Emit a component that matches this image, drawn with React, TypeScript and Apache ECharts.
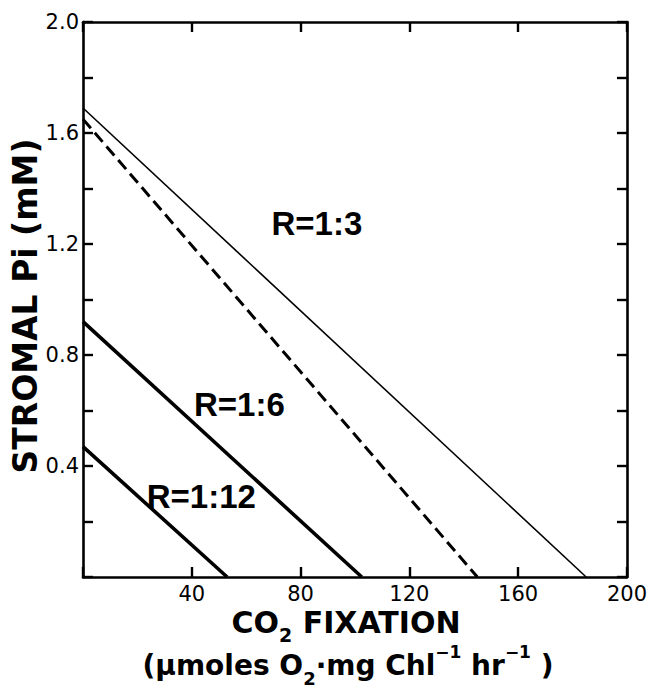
import React, { useEffect, useRef } from "react";
import * as echarts from "echarts";

// ---- data ----
const seriesNames = ["R=1:3", "R=1:3 (dashed)", "R=1:6", "R=1:12"];
const yIntercepts = [1.69, 1.65, 0.92, 0.47]; // stromal Pi at zero CO2 fixation (mM)
const xIntercepts = [185, 145, 102.5, 53]; // CO2 fixation where Pi reaches zero
const lineWidths = [1.6, 3, 3.6, 3.6];
const lineTypes: any[] = ["solid", [12, 6], "solid", "solid"];

const annotationTexts = ["R=1:3", "R=1:6", "R=1:12"];
const annotationX = [86, 57.5, 43.5];
const annotationY = [1.275, 0.62, 0.29];

const xMin = 0, xMax = 200, xStep = 40;
const yMin = 0, yMax = 2.0, yStep = 0.2;

const FONT = '"DejaVu Sans", "Liberation Sans", sans-serif';
const FONT2 = '"Liberation Sans", Arial, sans-serif';

export default function App() {
  const ref = useRef<HTMLDivElement>(null);
  useEffect(() => {
    if (!ref.current) return;
    const chart = echarts.init(ref.current, undefined, { renderer: "svg" });
    const axisLine = { show: true, onZero: false, lineStyle: { color: "#000", width: 2.6 } };
    const axisTick = { show: true, inside: true, length: 10, lineStyle: { color: "#000", width: 2.4 } };
    const lineSeries = seriesNames.map((name, i) => ({
      name,
      type: "line",
      xAxisIndex: 0,
      yAxisIndex: 0,
      data: [
        [0, yIntercepts[i]],
        [xIntercepts[i], 0],
      ],
      symbol: "none",
      lineStyle: { color: "#000", width: lineWidths[i], type: lineTypes[i], cap: "butt" },
      silent: true,
    }));
    const labelSeries = {
      name: "labels",
      type: "scatter",
      xAxisIndex: 0,
      yAxisIndex: 0,
      symbolSize: 0,
      itemStyle: { color: "#000", opacity: 1 },
      data: annotationTexts.map((t, i) => ({ name: t, value: [annotationX[i], annotationY[i]] })),
      label: {
        show: true,
        position: "inside",
        formatter: (p: any) => p.name,
        color: "#000",
        opacity: 1,
        fontFamily: FONT2,
        fontWeight: "bold",
        fontSize: 33,
      },
      silent: true,
    };
    chart.setOption({
      animation: false,
      backgroundColor: "#fff",
      grid: { left: 83, right: 16, top: 22, bottom: 117, containLabel: false },
      xAxis: [
        {
          type: "value",
          position: "bottom",
          min: xMin,
          max: xMax,
          interval: xStep,
          axisLine,
          axisTick,
          splitLine: { show: false },
          axisLabel: {
            margin: 6,
            color: "#000",
            fontFamily: FONT,
            fontSize: 21,
            formatter: (v: number) => (v === 0 ? "" : String(v)),
          },
        },
        {
          type: "value",
          position: "top",
          min: xMin,
          max: xMax,
          interval: xStep,
          axisLine,
          axisTick,
          splitLine: { show: false },
          axisLabel: { show: false },
        },
      ],
      yAxis: [
        {
          type: "value",
          position: "left",
          min: yMin,
          max: yMax,
          interval: yStep,
          axisLine,
          axisTick,
          splitLine: { show: false },
          axisLabel: {
            margin: 4,
            color: "#000",
            fontFamily: FONT,
            fontSize: 21,
            formatter: (v: number) => {
              const k = Math.round(v * 10);
              return k > 0 && k % 4 === 0 ? v.toFixed(1) : "";
            },
          },
        },
        {
          type: "value",
          position: "right",
          min: yMin,
          max: yMax,
          interval: yStep,
          axisLine,
          axisTick,
          splitLine: { show: false },
          axisLabel: { show: false },
        },
      ],
      graphic: [
        {
          type: "text",
          x: 25,
          y: 306,
          rotation: Math.PI / 2,
          style: {
            text: "STROMAL Pi (mM)",
            font: `bold 33px ${FONT}`,
            fill: "#000",
            align: "center",
            verticalAlign: "middle",
          },
        },
        {
          type: "text",
          x: 346,
          y: 622,
          style: {
            text: "{a|CO}{s|2}{a| FIXATION}",
            fill: "#000",
            align: "center",
            verticalAlign: "middle",
            rich: {
              a: { fontFamily: FONT, fontWeight: "bold", fontSize: 30, lineHeight: 34, verticalAlign: "middle" },
              s: { fontFamily: FONT, fontWeight: "bold", fontSize: 19, lineHeight: 44, verticalAlign: "bottom" },
            },
          },
        },
        {
          type: "text",
          x: 348,
          y: 665,
          style: {
            text: "{a|(μmoles O}{s|2}{a|·mg Chl}{p|−1}{a| hr}{p|−1}{a| )}",
            fill: "#000",
            align: "center",
            verticalAlign: "middle",
            rich: {
              a: { fontFamily: FONT, fontWeight: "bold", fontSize: 28, lineHeight: 34, verticalAlign: "middle" },
              s: { fontFamily: FONT, fontWeight: "bold", fontSize: 18, lineHeight: 44, verticalAlign: "bottom" },
              p: { fontFamily: FONT, fontWeight: "bold", fontSize: 17, lineHeight: 40, verticalAlign: "top" },
            },
          },
        },
      ],
      series: [...lineSeries, labelSeries],
    });
    return () => chart.dispose();
  }, []);
  return (
    <div
      ref={ref}
      style={{ position: "absolute", left: 0, top: 0, width: 650, height: 694, background: "#fff" }}
    />
  );
}
